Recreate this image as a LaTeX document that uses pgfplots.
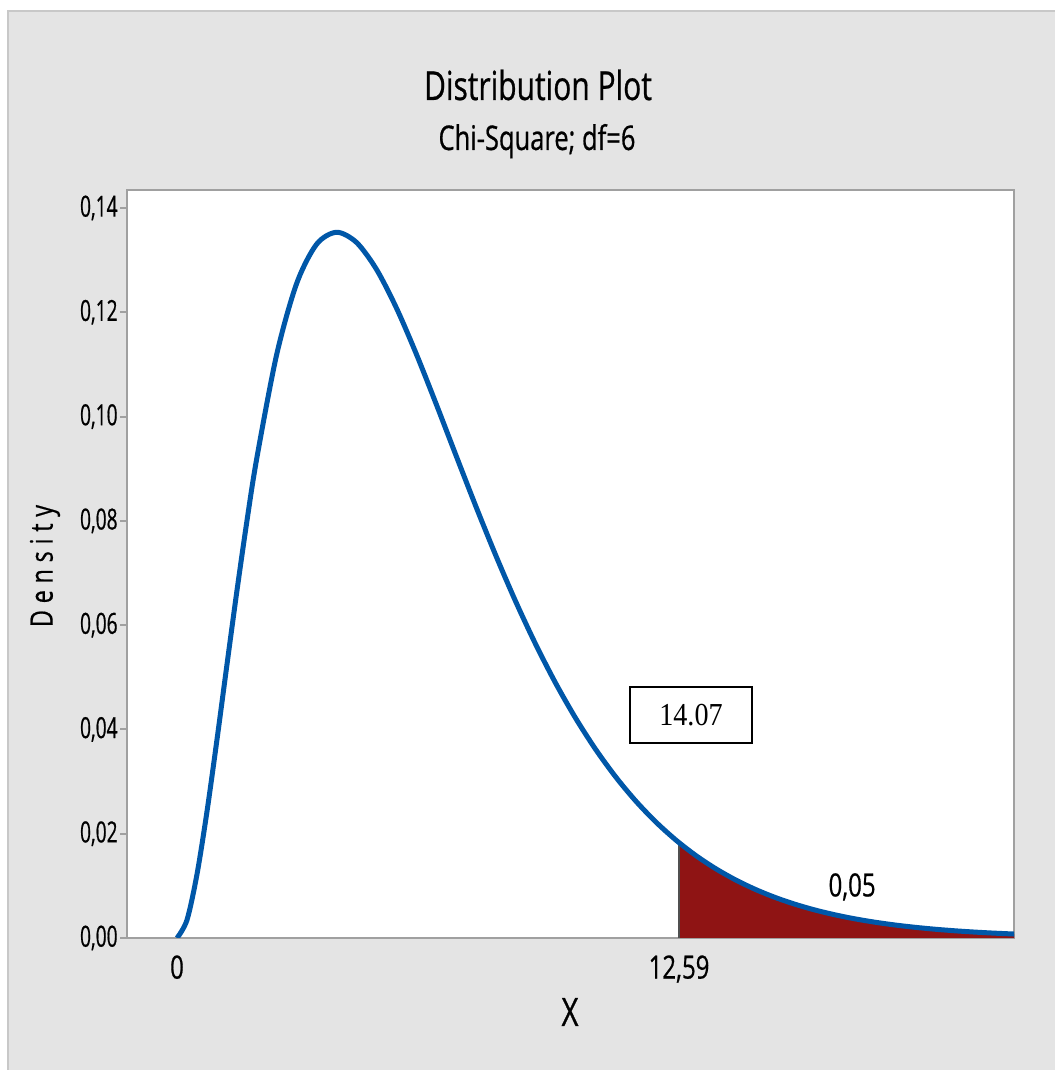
\documentclass[border=0pt]{standalone}
\usepackage{pgfplots}
\pgfplotsset{compat=1.18}
\usepackage{fontspec}
\setmainfont{Open Sans}[FakeStretch=0.75, FakeBold=0.6]
\newfontfamily\tickfont{Open Sans}[FakeStretch=0.66, FakeBold=0.6]
\newfontfamily\serifbox{Liberation Serif}[FakeStretch=0.88]

\definecolor{bggray}{HTML}{E4E4E4}
\definecolor{edgegray}{HTML}{C8C8C8}
\definecolor{axisgray}{HTML}{A0A0A0}
\definecolor{curveblue}{HTML}{0057A8}
\definecolor{tailred}{HTML}{8F1414}
\definecolor{cutgray}{HTML}{505050}

\begin{document}
\begin{tikzpicture}
\path[use as bounding box] (0,0) rectangle (527.5pt,535pt);
\fill[white] (0,0) rectangle (527.5pt,535pt);
\fill[bggray] (4pt,0) rectangle (527.5pt,529.5pt);
\draw[edgegray, line width=1pt] (4pt,0) -- (4pt,529.5pt) -- (527.5pt,529.5pt);

\begin{axis}[
    at={(63.5pt,66pt)}, anchor=south west,
    width=443.5pt, height=374pt, scale only axis,
    xmin=-1.254, xmax=20.99,
    ymin=0, ymax=0.14345,
    axis background/.style={fill=white},
    axis line style={draw=axisgray, line width=1.2pt},
    xtick={0,12.59}, xticklabels={0,{12,59}},
    ytick={0,0.02,0.04,0.06,0.08,0.10,0.12,0.14},
    yticklabels={{0,00},{0,02},{0,04},{0,06},{0,08},{0,10},{0,12},{0,14}},
    xtick pos=bottom, ytick pos=left,
    tick align=outside,
    major tick length=3.5pt,
    x tick style={draw=none},
    y tick style={draw=axisgray, line width=1pt},
    yticklabel style={font=\tickfont\fontsize{14.5}{16}\selectfont, inner sep=1pt},
    xticklabel style={font=\fontsize{16}{18}\selectfont, inner sep=1pt, yshift=-4pt},
    /pgf/number format/assume math mode=true,
    clip=true,
]
% tail area beyond the critical value
\addplot[fill=tailred, draw=none, smooth] coordinates {
  (12.59,0.018284) (13,0.015880) (13.5,0.013337) (14,0.011171) (14.5,0.0093321)
  (15,0.0077777) (15.5,0.0064678) (16,0.0053674) (16.5,0.0044455) (17,0.0036752)
  (17.5,0.0030330) (18,0.0024991) (18.5,0.0020559) (19,0.0016888) (19.5,0.0013854)
  (20,0.0011350) (20.5,0.00092868) (21,0.00075896)
} \closedcycle;
\addplot[cutgray, line width=0.8pt] coordinates {(12.59,0) (12.59,0.018284)};
% density curve
\addplot[curveblue, line width=2.5pt, smooth] coordinates {
  (0,0) (0.25,0.0034473) (0.5,0.012169) (0.75,0.024162) (1,0.037908)
  (1.25,0.052272) (1.5,0.066427) (1.75,0.079790) (2,0.091970)
  (2.5,0.11191) (3,0.12551) (3.5,0.13304) (4,0.13534) (4.5,0.13340)
  (5,0.12826) (5.5,0.12086) (6,0.11202) (6.5,0.10239) (7,0.092478)
  (7.5,0.082680) (8,0.073263) (8.5,0.064411) (9,0.056239) (9.5,0.048801)
  (10,0.042112) (10.5,0.036159) (11,0.030906) (11.5,0.026308) (12,0.022309)
  (12.5,0.018853) (13,0.015880) (13.5,0.013337) (14,0.011171) (14.5,0.0093321)
  (15,0.0077777) (15.5,0.0064678) (16,0.0053674) (16.5,0.0044455) (17,0.0036752)
  (17.5,0.0030330) (18,0.0024991) (18.5,0.0020559) (19,0.0016888) (19.5,0.0013854)
  (20,0.0011350) (20.5,0.00092868) (21,0.00075896)
};
\node[font=\fontsize{16}{18}\selectfont] at (axis cs:16.93,0.0098) {0,05};
\node[draw=black, line width=0.6pt, fill=white, minimum width=61pt, minimum height=28pt,
      font=\serifbox\fontsize{16}{18}\selectfont] at (axis cs:12.89,0.04277) {14.07};
\end{axis}

\node[anchor=base, font=\fontsize{20}{23}\selectfont] at (269pt,485pt) {Distribution Plot};
\node[anchor=base, font=\fontsize{17}{20}\selectfont] at (268.5pt,460pt) {Chi-Square; df=6};
\node[font=\fontsize{19.6}{22}\selectfont] at (285pt,29pt) {X};
\node[rotate=90, font=\fontsize{15.5}{17}\selectfont\addfontfeature{LetterSpace=22}] at (22.5pt,252pt) {Density};
\end{tikzpicture}
\end{document}
